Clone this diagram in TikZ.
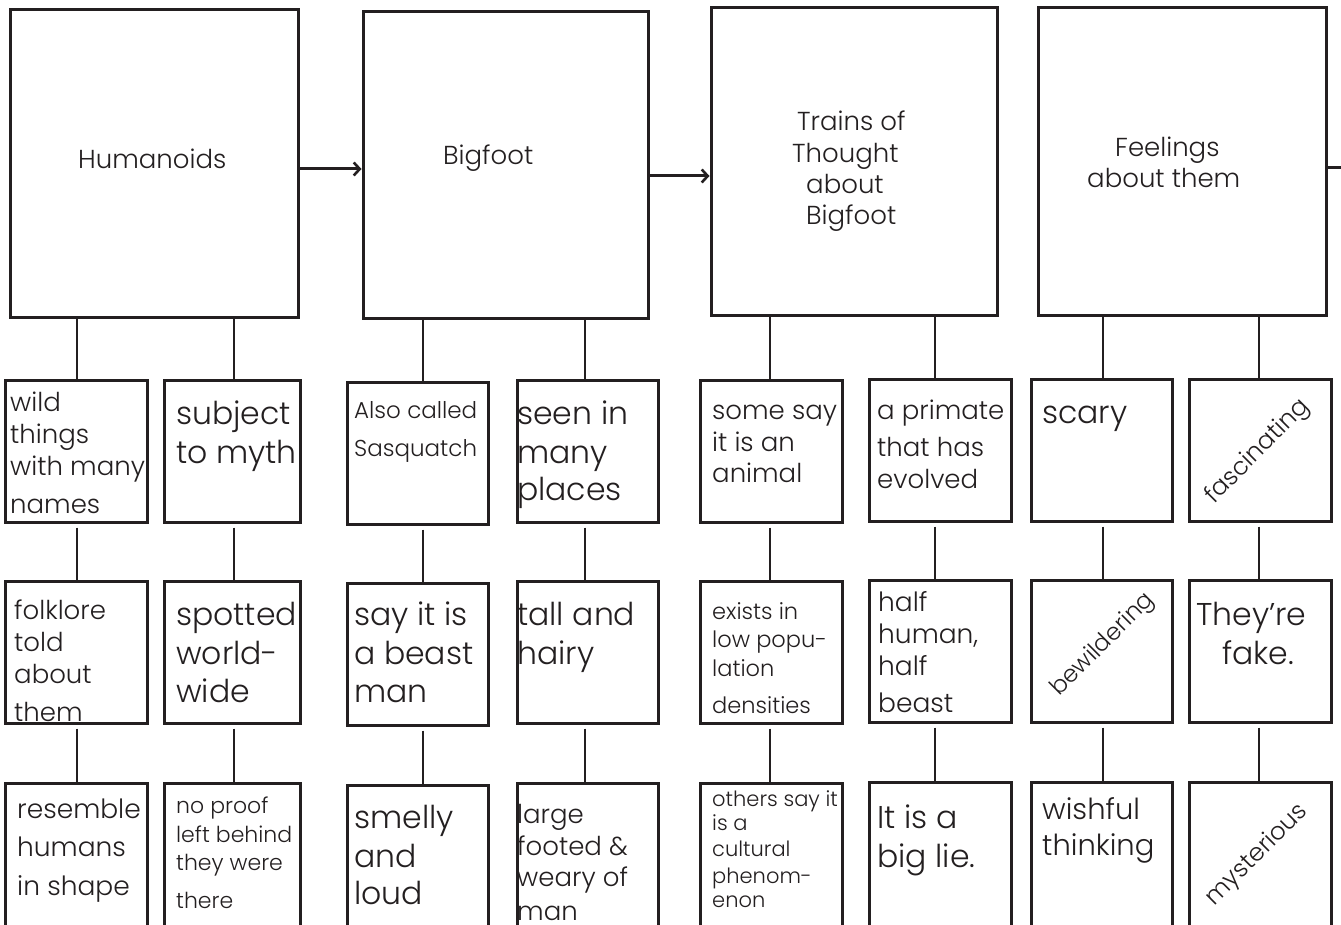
\documentclass[tikz,border=0pt]{standalone}
\usepackage{fontspec}
\setmainfont{Poppins Light}
\usetikzlibrary{arrows.meta}
\definecolor{ink}{HTML}{231F20}
\newcommand{\RowLn}[2]{\vskip#1\hbox{#2}}
\newcommand{\TxStk}[1]{\vtop{\baselineskip=0pt\lineskip=0pt\lineskiplimit=-10000pt #1}}
\newcommand{\fs}[1]{\fontsize{#1}{#1}\selectfont}
\begin{document}
\begin{tikzpicture}[x=1pt,y=-1pt,
  bigbox/.style={draw=ink, line width=3pt, inner sep=0pt},
  smallbox/.style={draw=ink, line width=3pt, inner sep=0pt, minimum height=142pt},
  link/.style={draw=ink, line width=2.6pt},
  arr/.style={draw=ink, line width=3pt, -{Straight Barb[length=6pt,width=13pt,line width=2.6pt]}},
  tx/.style={anchor=base west, inner sep=0pt, text=ink},
  rt/.style={rotate=45, inner sep=0pt, text=ink}]
\useasboundingbox (0,0) rectangle (1341,925);
\fill[white] (0,0) rectangle (1341,925);
\clip (0,0) rectangle (1341,925);
% top boxes
\node[bigbox, minimum width=288pt, minimum height=307pt] (T1) at (154,163.5) {};
\node[bigbox, minimum width=285pt, minimum height=306pt] (T2) at (505.5,165) {};
\node[bigbox, minimum width=286pt, minimum height=307pt] (T3) at (854,161.5) {};
\node[bigbox, minimum width=288pt, minimum height=307pt] (T4) at (1182,161.5) {};
% top texts
\node[tx, font=\fs{26}] (h1) at (78,169) {Humanoids};
\node[tx, font=\fs{26}] (h2) at (443,165) {Bigfoot};
\node[tx, font=\fs{26}] (h3) at (792,131) {\TxStk{\hbox{\kern5pt Trains of}\RowLn{32pt}{Thought}\RowLn{31pt}{\kern14pt about}\RowLn{31pt}{\kern14pt Bigfoot}}};
\node[tx, font=\fs{26}] (h4) at (1087,157) {\TxStk{\hbox{\kern28pt Feelings}\RowLn{31pt}{about them}}};
% arrows
\coordinate (a1) at (0,169);
\coordinate (a2) at (0,176);
\coordinate (a3) at (1341,168);
\draw[arr] (T1.east |- a1) -- (T2.west |- a1);
\draw[arr] (T2.east |- a2) -- (T3.west |- a2);
\draw[link, line width=3pt] (T4.east |- a3) -- (a3);
% small boxes: columns
\foreach \n/\xl/\xr/\dy in {1/5/147/0, 2/164/300/0, 3/347/488/2, 4/517/658/0, 5/700/842/0, 6/869/1011/-1, 7/1031/1172/-1, 8/1189/1331/-1}{
  \node[smallbox, minimum width=\xr-\xl] (B1\n) at ({(\xl+\xr)/2},{451+\dy}) {};
  \node[smallbox, minimum width=\xr-\xl] (B2\n) at ({(\xl+\xr)/2},{652+\dy}) {};
  \node[smallbox, minimum width=\xr-\xl, minimum height=152pt] (B3\n) at ({(\xl+\xr)/2},{859+\dy}) {};
}
% connector x positions
\coordinate (c1) at (77,0);
\coordinate (c2) at (234,0);
\coordinate (c3) at (423,0);
\coordinate (c4) at (585,0);
\coordinate (c5) at (770,0);
\coordinate (c6) at (935,0);
\coordinate (c7) at (1103,0);
\coordinate (c8) at (1259,0);
\draw[link] (T1.south -| c1) -- (B11.north -| c1);
\draw[link] (T1.south -| c2) -- (B12.north -| c2);
\draw[link] (T2.south -| c3) -- (B13.north -| c3);
\draw[link] (T2.south -| c4) -- (B14.north -| c4);
\draw[link] (T3.south -| c5) -- (B15.north -| c5);
\draw[link] (T3.south -| c6) -- (B16.north -| c6);
\draw[link] (T4.south -| c7) -- (B17.north -| c7);
\draw[link] (T4.south -| c8) -- (B18.north -| c8);
\foreach \n in {1,...,8}{
  \draw[link] ([yshift=-4pt]B1\n.south -| c\n) -- (B2\n.north -| c\n);
  \draw[link] ([yshift=-4pt]B2\n.south -| c\n) -- (B3\n.north -| c\n);
}
% row 1 texts
\node[tx, font=\fs{26}] (t11) at (10,411.6) {\TxStk{\hbox{wild}\RowLn{31.5pt}{things}\RowLn{32pt}{with many}\RowLn{38pt}{names}}};
\node[tx, font=\fs{31.5}] (t12) at (176,424.6) {\TxStk{\hbox{subject}\RowLn{39pt}{to myth}}};
\node[tx, font=\fs{23}] (t13) at (354,418) {\TxStk{\hbox{Also called}\RowLn{38pt}{Sasquatch}}};
\node[tx, font=\fs{31.5}] (t14) at (517,424.6) {\TxStk{\hbox{seen in}\RowLn{38.5pt}{many}\RowLn{37.5pt}{places}}};
\node[tx, font=\fs{26}] (t15) at (712,419) {\TxStk{\hbox{some say}\RowLn{32.8pt}{it is an}\RowLn{31pt}{animal}}};
\node[tx, font=\fs{26}] (t16) at (877,419) {\TxStk{\hbox{a primate}\RowLn{37pt}{that has}\RowLn{32pt}{evolved}}};
\node[tx, font=\fs{31.5}] (t17) at (1042,423) {scary};
\node[rt, font=\fs{24.5}] (t18) at (1258,452) {fascinating};
% row 2 texts
\node[tx, font=\fs{26}] (t21) at (14,619.6) {\TxStk{\hbox{folklore}\RowLn{31.5pt}{told}\RowLn{32pt}{about}\RowLn{38pt}{them}}};
\node[tx, font=\fs{31.5}] (t22) at (176,625.6) {\TxStk{\hbox{spotted}\RowLn{38.5pt}{world-}\RowLn{38pt}{wide}}};
\node[tx, font=\fs{31.5}] (t23) at (354,625.6) {\TxStk{\hbox{say it is}\RowLn{38.5pt}{a beast}\RowLn{38pt}{man}}};
\node[tx, font=\fs{31.5}] (t24) at (517,625.6) {\TxStk{\hbox{tall and}\RowLn{38.5pt}{hairy}}};
\node[tx, font=\fs{22.5}] (t25) at (712,619.6) {\TxStk{\hbox{exists in}\RowLn{28.3pt}{low popu-}\RowLn{28.1pt}{lation}\RowLn{37.8pt}{densities}}};
\node[tx, font=\fs{26.5}] (t26) at (878,611.5) {\TxStk{\hbox{half}\RowLn{31.5pt}{human,}\RowLn{32pt}{half}\RowLn{37pt}{beast}}};
\node[rt, font=\fs{23.5}] (t27) at (1103,645) {bewildering};
\node[tx, font=\fs{31.5}] (t28) at (1196,625.6) {\TxStk{\hbox{They’re}\RowLn{38.5pt}{\kern26pt fake.}}};
% row 3 texts
\node[tx, font=\fs{26.5}] (t31) at (17,818.5) {\TxStk{\hbox{resemble}\RowLn{38pt}{humans}\RowLn{38.5pt}{in shape}}};
\node[tx, font=\fs{22}] (t32) at (176,813.6) {\TxStk{\hbox{no proof}\RowLn{29pt}{left behind}\RowLn{28pt}{they were}\RowLn{38pt}{there}}};
\node[tx, font=\fs{31.5}] (t33) at (354,828) {\TxStk{\hbox{smelly}\RowLn{39pt}{and}\RowLn{37pt}{loud}}};
\node[tx, font=\fs{26}] (t34) at (517,823) {\TxStk{\hbox{large}\RowLn{32pt}{footed \&}\RowLn{31.6pt}{weary of}\RowLn{33.4pt}{man}}};
\node[tx, font=\fs{21}] (t35) at (712,806.5) {\TxStk{\hbox{others say it}\RowLn{23.5pt}{is a}\RowLn{26.6pt}{cultural}\RowLn{26.4pt}{phenom-}\RowLn{24.7pt}{enon}}};
\node[tx, font=\fs{31.5}] (t36) at (877,828) {\TxStk{\hbox{It is a}\RowLn{39pt}{big lie.}}};
\node[tx, font=\fs{29}] (t37) at (1042,819.6) {\TxStk{\hbox{wishful}\RowLn{35.5pt}{thinking}}};
\node[rt, font=\fs{24.5}] (t38) at (1257,855) {mysterious};
\end{tikzpicture}
\end{document}
